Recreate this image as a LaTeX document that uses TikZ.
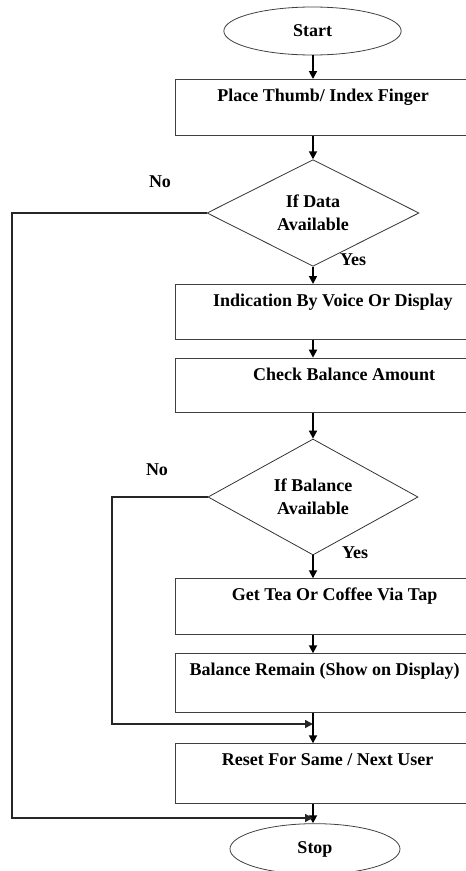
\documentclass[tikz,border=0pt]{standalone}
\usepackage{fontspec}
\setmainfont{Liberation Serif}
\usetikzlibrary{shapes.geometric, arrows.meta, positioning, calc}
\tikzset{
    startstop/.style={
        ellipse, draw=black!75, line width=0.6pt, inner sep=0pt,
        font=\bfseries\fontsize{13.5}{16}\selectfont
    },
    process/.style={
        rectangle, anchor=north west, draw=black!75, line width=0.8pt,
        inner xsep=0pt, inner ysep=0pt, text height=16.5pt,
        font=\bfseries\fontsize{13.5}{16}\selectfont
    },
    decision/.style={
        diamond, aspect=2, inner sep=0pt, draw=black!80, line width=0.6pt,
        align=center, font=\bfseries\fontsize{13.5}{17}\selectfont
    },
    answer/.style={
        font=\bfseries\fontsize{13.5}{16}\selectfont
    },
    arrow/.style={
        line width=1.3pt, -{Triangle[length=6pt, width=6pt]}
    },
    noline/.style={
        line width=1.1pt, draw=black!85, -{Triangle[length=6pt, width=6pt]}
    }
}
\begin{document}
\begin{tikzpicture}[x=0.75pt, y=-0.75pt]
        \path[use as bounding box, clip] (0,0) rectangle (466,871);
        \coordinate (spine) at (313,0);

        \node [startstop, minimum width=133pt, minimum height=36pt] (start) at (312.5,31) {Start};
        \node [process, minimum width=221.5pt, text depth=25.3pt] (thumb) at (175,79) {Place Thumb/ Index Finger};
        \node [decision, minimum width=159pt, minimum height=80pt] (dataq) at (313,213) {If Data\\Available};
        \node [process, minimum width=236pt, text depth=24.5pt] (voice) at (175,284) {Indication By Voice Or Display};
        \node [process, minimum width=253pt, text depth=24.5pt] (check) at (175,357.7) {Check Balance Amount};
        \node [decision, minimum width=157.5pt, minimum height=87pt] (balq) at (313,497) {If Balance\\Available};
        \node [process, minimum width=238.5pt, text depth=25.3pt] (tap) at (175,578.3) {Get Tea Or Coffee Via Tap};
        \node [process, minimum width=223.5pt, text depth=27.3pt] (remain) at (175,653.3) {Balance Remain (Show on Display)};
        \node [process, minimum width=228pt, text depth=28.5pt] (reset) at (175,743.3) {Reset For Same / Next User};
        \node [startstop, minimum width=127.5pt, minimum height=38pt] (stop) at (315,849) {Stop};

        % branch labels
        \node [answer] (nodata) at (160,182) {No};
        \node [answer] (yesdata) at (353,260) {Yes};
        \node [answer] (nobal) at (157,470) {No};
        \node [answer] (yesbal) at (355,553) {Yes};

        % main flow
        \draw [arrow] (spine |- start.south) -- (spine |- thumb.north);
        \draw [arrow] (spine |- thumb.south) -- (dataq.north);
        \draw [arrow] (dataq.south) -- (spine |- voice.north);
        \draw [arrow] (spine |- voice.south) -- (spine |- check.north);
        \draw [arrow] (spine |- check.south) -- (balq.north);
        \draw [arrow] (balq.south) -- (spine |- tap.north);
        \draw [arrow] (spine |- tap.south) -- (spine |- remain.north);
        \draw [arrow] (spine |- remain.south) -- (spine |- reset.north);
        \draw [arrow] (spine |- reset.south) -- (spine |- stop.north);

        % "No" returns
        \coordinate (datacorner) at (12,818);
        \coordinate (balcorner) at (112,724);
        \draw [noline] (dataq.west) -| (datacorner) -- (spine |- datacorner);
        \draw [noline] (balq.west) -| (balcorner) -- (spine |- balcorner);
\end{tikzpicture}
\end{document}
